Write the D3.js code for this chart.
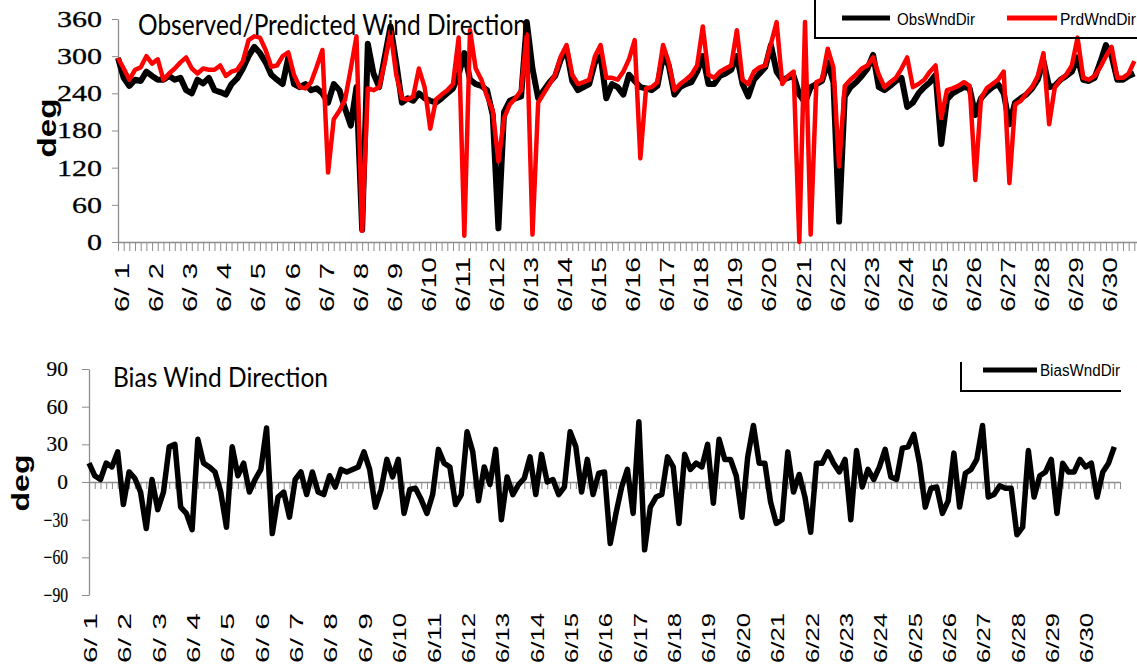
<!DOCTYPE html>
<html><head><meta charset="utf-8">
<script src="https://cdn.jsdelivr.net/npm/d3@7"></script>
<style>body{margin:0;background:#fff}svg{display:block}</style>
</head><body>
<svg id="chart" width="1137" height="668"></svg>
<script>
// ---- data (6 readings per day, every 4 hours, 6/1 00:00 .. 6/30 20:00) ----
const stepsPerDay = 6;
const dayLabels = d3.range(1, 31).map(d => "6/" + (d < 10 ? " " + d : d));
const topTicks = [0, 60, 120, 180, 240, 300, 360];
const biasTicks = [-90, -60, -30, 0, 30, 60, 90];
const seriesNames = ["ObsWndDir", "PrdWndDir", "BiasWndDir"];

const obsWndDir = [
 297,265,252,262,260,275, 268,262,262,268,262,265, 245,240,262,256,265,245,
 242,238,255,264,280,300, 315,305,290,270,262,255, 298,255,250,255,245,248,
 240,225,255,245,215,188, 250,20,320,272,250,300, 348,290,225,232,228,240,
 232,228,225,232,240,248, 270,305,262,255,252,245, 205,22,210,228,232,235,
 355,280,232,245,258,268, 295,310,260,245,250,255, 290,300,232,255,250,238,
 270,260,250,248,245,252, 300,285,238,250,255,258, 275,300,255,255,268,272,
 278,300,255,235,262,272, 282,318,275,262,265,268, 238,225,250,255,260,290,
 258,33,235,250,258,268, 280,302,250,245,252,260, 265,218,225,240,250,258,
 270,158,230,240,245,250, 248,205,232,242,250,255, 240,190,225,232,238,248,
 262,292,250,252,262,268, 275,298,262,260,265,290, 318,300,262,262,268,272
];
const prdWndDir = [
 297,280,262,278,282,300, 288,295,262,272,280,290, 298,280,272,280,278,278,
 285,268,275,278,292,326, 332,330,310,283,285,300, 306,270,250,248,258,283,
 310,112,198,212,230,280, 332,18,248,245,250,290, 340,270,232,230,235,280,
 250,183,230,238,245,255, 330,10,342,280,262,235, 212,130,200,222,232,245,
 335,12,225,240,255,270, 300,318,270,255,258,262, 300,318,265,265,262,275,
 295,326,135,248,250,258, 318,290,245,255,262,270, 285,348,270,265,275,280,
 285,342,262,255,275,282, 285,320,355,255,268,275, 0,355,12,258,262,312,
 282,122,252,262,270,280, 285,298,270,250,258,265, 280,298,250,255,262,275,
 285,200,245,248,252,258, 252,100,232,248,255,262, 275,95,222,228,240,250,
 268,305,190,250,262,270, 285,330,265,262,268,282, 300,315,265,265,272,292
];
const biasWndDir = [
 15,5,2,15,12,24, -18,8,3,-8,-37,2, -22,-8,28,30,-20,-25,
 -38,34,15,12,8,-8, -36,28,5,15,-8,2, 10,43,-41,-12,-8,-28,
 2,8,-10,8,-8,-10, 5,-4,10,8,10,12, 24,10,-20,-6,18,4,
 18,-25,-6,-5,-14,-25, -10,26,15,12,-18,-10, 40,24,-15,12,-2,26,
 -30,4,-10,-2,3,20, -10,22,0,2,-10,-4, 40,28,-8,18,-10,7,
 8,-49,-25,-4,10,-25, 48,-54,-20,-12,-10,20, 12,-33,22,10,15,12,
 30,-17,34,18,18,5, -28,20,45,15,15,-16, -33,-30,24,-8,6,-12,
 -40,15,15,24,15,8, 18,-30,25,-4,10,2, 12,26,4,2,27,28,
 38,15,-20,-5,-4,-25, -15,23,-20,7,10,18, 45,-12,-10,-3,-5,-5,
 -42,-36,25,-12,5,8, 18,-25,15,8,8,18, 12,15,-12,8,15,28
];

// ---- layout ----
const svg = d3.select("#chart");
const axisColor = "#8c8c8c";
const tickFont = "'Liberation Serif', 'Times New Roman', serif";
const labFont = "'Liberation Sans', Arial, sans-serif";
const titleFont = "Lato, 'Open Sans', sans-serif";

const xTop = d3.scaleLinear().domain([0, 30]).range([118, 1140]);
const yTop = d3.scaleLinear().domain([0, 360]).range([242, 19]);
const xBot = d3.scaleLinear().domain([0, 30]).range([89, 1120]);
const yBot = d3.scaleLinear().domain([-90, 90]).range([595, 369]);

const minorTicks = d3.range(0, 30 * stepsPerDay + 1).map(i => i / stepsPerDay);

function styleAxis(g) {
  g.selectAll("path.domain").attr("stroke", axisColor).attr("stroke-width", 1.3);
  g.selectAll(".tick line").attr("stroke", axisColor).attr("stroke-width", 1);
}

// ---- top panel ----
const gTopX = svg.append("g").attr("transform", `translate(0,${yTop(0)})`)
  .call(d3.axisBottom(xTop).tickValues(minorTicks).tickSize(9).tickSizeOuter(0).tickFormat(""));
styleAxis(gTopX);
const gTopY = svg.append("g").attr("transform", `translate(${xTop(0)},0)`)
  .call(d3.axisLeft(yTop).tickValues(topTicks).tickSize(6).tickSizeOuter(0).tickPadding(10));
styleAxis(gTopY);
gTopY.selectAll(".tick text")
  .attr("font-family", tickFont).attr("font-size", 23).attr("fill", "#000")
  .attr("stroke", "#000").attr("stroke-width", 0.3)
  .attr("textLength", d => String(d).length * 15).attr("lengthAdjust", "spacingAndGlyphs");

svg.append("g").selectAll("text").data(dayLabels).join("text")
  .attr("transform", (d, i) => `translate(${xTop(i) + 4},312) rotate(-90)`)
  .attr("dy", "0.36em").attr("text-anchor", "start")
  .attr("font-family", labFont).attr("font-size", 20).attr("fill", "#000")
  .attr("textLength", d => d[3] === undefined || d[2] === " " ? 49 : 55)
  .attr("lengthAdjust", "spacingAndGlyphs")
  .text(d => d);

const lineTop = d3.line().x((d, i) => xTop(i / stepsPerDay)).y(d => yTop(d)).curve(d3.curveLinear);
svg.append("path").datum(obsWndDir).attr("d", lineTop)
  .attr("fill", "none").attr("stroke", "#000").attr("stroke-width", 6).attr("stroke-linejoin", "round");
svg.append("path").datum(prdWndDir).attr("d", lineTop)
  .attr("fill", "none").attr("stroke", "#ff0000").attr("stroke-width", 4.5).attr("stroke-linejoin", "round");

svg.append("text").attr("x", 138).attr("y", 35)
  .attr("font-family", titleFont).attr("font-size", 28).attr("fill", "#000")
  .attr("textLength", 389).attr("lengthAdjust", "spacingAndGlyphs")
  .text("Observed/Predicted Wind Direction");

svg.append("text").attr("transform", "translate(47,128) rotate(-90)")
  .attr("text-anchor", "middle").attr("dy", "0.35em")
  .attr("font-family", labFont).attr("font-weight", "bold").attr("font-size", 25)
  .attr("textLength", 59).attr("lengthAdjust", "spacingAndGlyphs")
  .text("deg");

// top legend
const legTop = svg.append("g");
legTop.append("path").attr("d", "M815,0 V38 H1137").attr("fill", "none").attr("stroke", "#000").attr("stroke-width", 2);
legTop.append("line").attr("x1", 842).attr("x2", 890).attr("y1", 18).attr("y2", 18).attr("stroke", "#000").attr("stroke-width", 5);
legTop.append("text").attr("x", 897).attr("y", 19).attr("dy", "0.35em")
  .attr("font-family", labFont).attr("font-size", 16)
  .attr("textLength", 78).attr("lengthAdjust", "spacingAndGlyphs").text(seriesNames[0]);
legTop.append("line").attr("x1", 1007).attr("x2", 1057).attr("y1", 18).attr("y2", 18).attr("stroke", "#ff0000").attr("stroke-width", 5);
legTop.append("text").attr("x", 1060).attr("y", 19).attr("dy", "0.35em")
  .attr("font-family", labFont).attr("font-size", 16)
  .attr("textLength", 76).attr("lengthAdjust", "spacingAndGlyphs").text(seriesNames[1]);

// ---- bottom panel ----
const gBotX = svg.append("g").attr("transform", `translate(0,${yBot(0)})`)
  .call(d3.axisBottom(xBot).tickValues(minorTicks).tickSize(7).tickSizeOuter(0).tickFormat(""));
styleAxis(gBotX);
const gBotY = svg.append("g").attr("transform", `translate(${xBot(0)},0)`)
  .call(d3.axisLeft(yBot).tickValues(biasTicks).tickSize(7).tickSizeOuter(0).tickPadding(14));
styleAxis(gBotY);
gBotY.selectAll(".tick text")
  .attr("font-family", tickFont).attr("font-size", 20).attr("fill", "#000")
  .attr("stroke", "#000").attr("stroke-width", 0.2)
  .attr("textLength", d => String(Math.abs(d)).length * 10.7 + (d < 0 ? 3 : 0))
  .attr("lengthAdjust", "spacingAndGlyphs");

svg.append("g").selectAll("text").data(dayLabels).join("text")
  .attr("transform", (d, i) => `translate(${xBot(i) + 1},663) rotate(-90)`)
  .attr("dy", "0.36em").attr("text-anchor", "start")
  .attr("font-family", labFont).attr("font-size", 19).attr("fill", "#000")
  .attr("textLength", 50).attr("lengthAdjust", "spacingAndGlyphs")
  .text(d => d);

const lineBot = d3.line().x((d, i) => xBot(i / stepsPerDay)).y(d => yBot(d));
svg.append("path").datum(biasWndDir).attr("d", lineBot)
  .attr("fill", "none").attr("stroke", "#000").attr("stroke-width", 5.5).attr("stroke-linejoin", "round");

svg.append("text").attr("x", 113).attr("y", 387)
  .attr("font-family", titleFont).attr("font-size", 26).attr("fill", "#000")
  .attr("textLength", 215).attr("lengthAdjust", "spacingAndGlyphs")
  .text("Bias Wind Direction");

svg.append("text").attr("transform", "translate(21,483) rotate(-90)")
  .attr("text-anchor", "middle").attr("dy", "0.35em")
  .attr("font-family", labFont).attr("font-weight", "bold").attr("font-size", 24)
  .attr("textLength", 57).attr("lengthAdjust", "spacingAndGlyphs")
  .text("deg");

const legBot = svg.append("g");
legBot.append("path").attr("d", "M961,362 V391 H1121").attr("fill", "none").attr("stroke", "#000").attr("stroke-width", 2);
legBot.append("line").attr("x1", 983).attr("x2", 1037).attr("y1", 370).attr("y2", 370).attr("stroke", "#000").attr("stroke-width", 5);
legBot.append("text").attr("x", 1040).attr("y", 370).attr("dy", "0.35em")
  .attr("font-family", labFont).attr("font-size", 16)
  .attr("textLength", 80).attr("lengthAdjust", "spacingAndGlyphs").text(seriesNames[2]);
</script>
</body></html>
